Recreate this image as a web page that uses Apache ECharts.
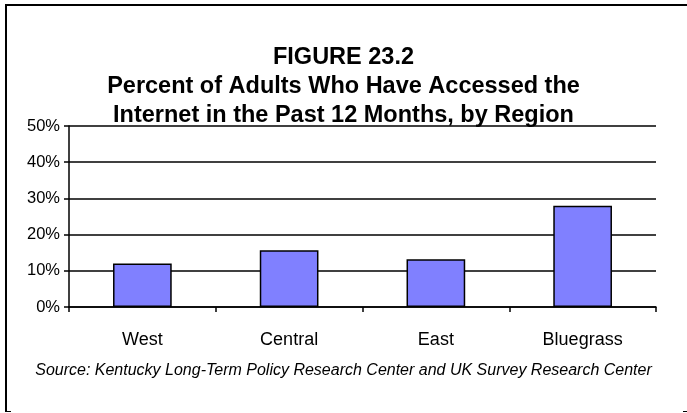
<!DOCTYPE html>
<html>
<head>
<meta charset="utf-8">
<script src="https://cdn.jsdelivr.net/npm/echarts@6/dist/echarts.min.js"></script>
<style>
  html, body { margin: 0; padding: 0; background: #fff; }
  #chart { width: 687px; height: 413px; }
</style>
</head>
<body>
<div id="chart"></div>
<script>
// regions and percentages
var regions = ['West', 'Central', 'East', 'Bluegrass'];
var percents = [12, 15.7, 13.2, 28];
var titleLines = ['FIGURE 23.2', 'Percent of Adults Who Have Accessed the', 'Internet in the Past 12 Months, by Region'];
var sourceNote = 'Source: Kentucky Long-Term Policy Research Center and UK Survey Research Center';

var myChart = echarts.init(document.getElementById('chart'));
var option = {
    backgroundColor: '#fff',
    animation: false,
    title: [
        {
            text: titleLines.join('\n'),
            left: 'center',
            top: 43,
            padding: 0,
            textStyle: {
                fontFamily: 'Liberation Sans, Arial',
                fontWeight: 'bold',
                fontSize: 23.5,
                lineHeight: 29,
                color: '#000'
            }
        },
        {
            text: sourceNote,
            left: 'center',
            top: 363,
            padding: 0,
            textStyle: {
                fontFamily: 'Liberation Sans, Arial',
                fontStyle: 'italic',
                fontWeight: 'normal',
                fontSize: 16,
                color: '#000'
            }
        }
    ],
    graphic: [
        // frame of the figure (cropped at bottom and right)
        { type: 'polyline', shape: { points: [[6, 412], [6, 5], [687, 5]] }, style: { stroke: '#000', lineWidth: 2, fill: null } },
        { type: 'line', shape: { x1: 5, y1: 411.5, x2: 11, y2: 411.5 }, style: { stroke: '#000', lineWidth: 1 } },
        { type: 'line', shape: { x1: 683, y1: 411.5, x2: 687, y2: 411.5 }, style: { stroke: '#000', lineWidth: 1 } }
    ],
    grid: {
        left: 69,
        right: 31,
        top: 126,
        bottom: 106
    },
    xAxis: {
        type: 'category',
        data: regions,
        axisLine: { lineStyle: { color: '#000', width: 1.5 } },
        axisTick: { show: true, length: 5, lineStyle: { color: '#000', width: 1.5 } },
        axisLabel: {
            margin: 24,
            fontFamily: 'Liberation Sans, Arial',
            fontSize: 18,
            color: '#000'
        }
    },
    yAxis: {
        type: 'value',
        min: 0,
        max: 50,
        interval: 10,
        axisLine: { show: true, lineStyle: { color: '#000', width: 1.5 } },
        axisTick: { show: true, length: 5, lineStyle: { color: '#000', width: 1.5 } },
        splitLine: { lineStyle: { color: '#000', width: 1.5 } },
        axisLabel: {
            formatter: '{value}%',
            margin: 9,
            fontFamily: 'Liberation Sans, Arial',
            fontSize: 16.5,
            color: '#000'
        }
    },
    series: [
        {
            type: 'bar',
            data: percents,
            barWidth: '40%',
            itemStyle: {
                color: '#8080ff',
                borderColor: '#000',
                borderWidth: 1.5
            }
        }
    ]
};
myChart.setOption(option);
window.onresize = function () {
    myChart.resize();
};
</script>
</body>
</html>
